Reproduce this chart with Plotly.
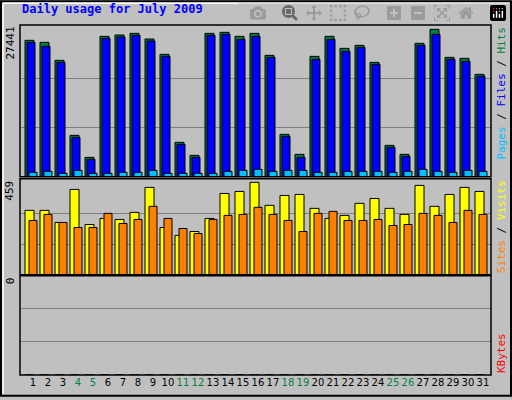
import plotly.graph_objects as go

days = list(range(1, 32))
hits = [25391,25018,21666,7698,3601,26136,26384,26694,25639,22783,6394,3973,26694,26881,26136,26694,22597,7884,4159,22411,26136,23901,24460,21294,5836,4159,24832,27441,22225,22038,19059]
files = [25018,24273,21294,7325,3228,25763,26012,26322,25267,22411,6022,3601,26322,26508,25577,26136,22225,7512,3601,21852,25577,23342,24087,20921,5463,3787,24460,26508,21852,21480,18686]
pages = [807,993,621,1180,621,621,807,807,1180,621,621,621,621,993,1180,1366,993,1180,1180,807,807,993,993,993,807,993,1366,993,807,1180,993]
visits = [320,320,260,424,250,280,275,310,434,235,196,215,280,404,414,459,345,394,399,330,280,295,355,379,330,300,444,340,399,434,414]
sites = [270,300,260,235,235,305,255,275,340,280,230,205,275,295,300,335,300,270,215,305,315,270,270,275,245,250,305,295,260,320,300]
kbytes = [0] * 31
weekend = [4,5,11,12,18,19,25,26]
max_hits = 27441
max_visits = 459
title = "Daily usage for July 2009"

S = 15.0  # px per day slot
def bar(y, color, off, w, yaxis):
    return go.Bar(x=days, y=y, offset=off / S, width=w / S, marker=dict(color=color, line=dict(color="black", width=1)),
                  yaxis=yaxis, xaxis="x", hoverinfo="skip")

fig = go.Figure()
fig.add_trace(bar(hits, "#008040", 0, 9, "y"))
fig.add_trace(bar(files, "#0000FF", 2, 8, "y"))
fig.add_trace(bar(pages, "#00C0FF", 4, 8, "y"))
fig.add_trace(bar(visits, "#FFFF00", 0, 9, "y2"))
fig.add_trace(bar(sites, "#FF8000", 4, 8, "y2"))
fig.add_trace(bar(kbytes, "#FF0000", 0, 9, "y3"))

W = 471.0
H = 353.0
ticktext = [f'<span style="color:#008040">{d}</span>' if d in weekend else str(d) for d in days]
fig.update_layout(
    width=512, height=400, margin=dict(l=20, r=21, t=25, b=22),
    paper_bgcolor="#C0C0C0", plot_bgcolor="#C0C0C0", showlegend=False, barmode="overlay",
    font=dict(family="DejaVu Sans Mono", size=11, color="black"),
    xaxis=dict(range=[1 - 5 / S, 1 - 5 / S + W / S], anchor="y3", tickvals=[d + 0.53 for d in days], ticktext=ticktext,
               showgrid=False, zeroline=False, ticks="", tickangle=0, ticklen=0,
               tickfont=dict(family="DejaVu Sans", size=10)),
    yaxis=dict(domain=[200 / H, 1], range=[0, max_hits * 455 / 442], tickvals=[max_hits / 3, 2 * max_hits / 3],
               showticklabels=False, gridcolor="#808080", zeroline=False),
    yaxis2=dict(domain=[101 / H, 198 / H], range=[0, max_visits * 288 / 277], tickvals=[max_visits / 3, 2 * max_visits / 3],
                showticklabels=False, gridcolor="#808080", zeroline=False),
    yaxis3=dict(domain=[0, 100 / H], range=[0, 1], tickvals=[1 / 3, 2 / 3], showticklabels=False,
                gridcolor="#808080", zeroline=False),
)
shapes = []
for ya in ["y", "y2", "y3"]:
    shapes.append(dict(type="rect", xref="paper", yref=f"{ya} domain", x0=0, x1=1, y0=0, y1=1,
                       line=dict(color="black", width=1.5)))
shapes.append(dict(type="rect", xref="paper", yref="paper", x0=-19 / W, x1=1 + 20 / W, y0=-21 / H, y1=1 + 24 / H,
                   line=dict(color="black", width=2)))
shapes.append(dict(type="line", xref="paper", yref="paper", x0=-17 / W, x1=1 + 18 / W, y0=1 + 22 / H, y1=1 + 22 / H,
                   line=dict(color="white", width=1.5)))
shapes.append(dict(type="line", xref="paper", yref="paper", x0=-17 / W, x1=-17 / W, y0=-19 / H, y1=1 + 22 / H,
                   line=dict(color="white", width=1.5)))
fig.update_layout(shapes=shapes)

mono = "DejaVu Sans Mono"
ann = [
    dict(text=f"<b>{title}</b>", x=0, y=1 + 16 / H, xanchor="left", yanchor="middle", xref="paper", yref="paper",
         font=dict(family=mono, size=12, color="#0000FF"), showarrow=False),
    dict(text=str(max_hits), x=-10 / W, y=1, xanchor="center", yanchor="top", textangle=-90, xref="paper", yref="paper",
         font=dict(family=mono, size=11), showarrow=False),
    dict(text=str(max_visits), x=-10 / W, y=198 / H, xanchor="center", yanchor="top", textangle=-90, xref="paper",
         yref="paper", font=dict(family=mono, size=11), showarrow=False),
    dict(text="0", x=-10 / W, y=100 / H, xanchor="center", yanchor="top", textangle=-90, xref="paper", yref="paper",
         font=dict(family=mono, size=11), showarrow=False),
    dict(text='<span style="color:#00C0FF">Pages</span> / <span style="color:#0000FF">Files</span> / <span style="color:#008040">Hits</span>',
         x=1 + 10 / W, y=1, xanchor="center", yanchor="top", textangle=-90, xref="paper", yref="paper",
         font=dict(family=mono, size=11), showarrow=False),
    dict(text='<span style="color:#FF8000">Sites</span> / <span style="color:#FFFF00">Visits</span>',
         x=1 + 10 / W, y=198 / H, xanchor="center", yanchor="top", textangle=-90, xref="paper", yref="paper",
         font=dict(family=mono, size=11), showarrow=False),
    dict(text='<span style="color:#FF0000">KBytes</span>', x=1 + 10 / W, y=0, xanchor="center", yanchor="bottom",
         textangle=-90, xref="paper", yref="paper", font=dict(family=mono, size=11), showarrow=False),
]
fig.update_layout(annotations=ann)
fig.write_html("out.html")
with open("out.html", encoding="utf-8") as f:
    html = f.read()
html = html.replace("<head>", "<head><style>html,body{margin:0;padding:0;overflow:hidden;}</style>", 1)
with open("out.html", "w", encoding="utf-8") as f:
    f.write(html)
